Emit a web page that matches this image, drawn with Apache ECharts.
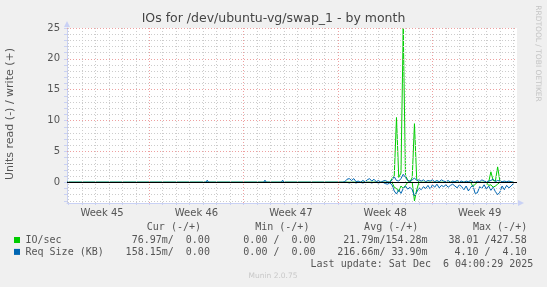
<!DOCTYPE html>
<html><head><meta charset="utf-8">
<script src="https://cdn.jsdelivr.net/npm/echarts@6/dist/echarts.min.js"></script>
<style>html,body{margin:0;padding:0;background:#f0f0f0}#c{width:547px;height:287px}</style>
</head><body><div id="c"></div>
<script>
// ---- data ----
const weekLabels = ['Week 45', 'Week 46', 'Week 47', 'Week 48', 'Week 49'];
const weekCenters = [2.5, 9.5, 16.5, 23.5, 30.5];   // days from first day line
const weekStarts = [6, 13, 20, 27];
const yTickLabels = [0, 5, 10, 15, 20, 25];
const dataStartDay = 20.5;
const stepDay = 1 / 6;  // 4-hour samples

const ioWrite = [0,0,0,0,0,0,0,0,0,0, 0,0,0,0,0,0,0,0,0,0, 0,0.6,1.0,10.5,0.8,1.5,25,1.2,0.3,0,
                 0.8,9.5,0.5,0,0,0,0,0,0,0, 0,0,0,0,0,0,0,0,0,0, 0,0,0,0,0,0,0,0,0,0,
                 0,0,0,0,0,1.7,0.3,0.2,2.5,0.2, 0,0,0,0,0,0];
const ioRead = [0,0,0,0,0,0,0,0,0,0, 0,0,0,0,0,0,0,0,0,0, 0,0,0.8,1.0,1.5,0.6,1.0,0.5,0,0,
                0,3.0,1.2,0,0,0,0,0,0,0, 0,0,0,0,0,0,0,0,0,0, 0,0,0,0,0,0,0,0.7,0.3,0,
                0,0,0,0,0.5,0.4,0.8,0.6,0.3,0, 0,0,0,0,0,0];
const sizeWrite = [0.1,0.5,0.6,0.3,0.6,0.1,0.2,0.0,0.3,0.1, 0.4,0.6,0.2,0.5,0.1,0.3,0.0,0.2,0.3,0.1,
                   0.0,0.4,0.9,0.3,0.2,0.6,1.3,0.8,0.3,0.2, 0.4,0.7,0.3,0.4,0.2,0.4,0.1,0.3,0.2,0.4,
                   0.1,0.3,0.1,0.4,0.2,0.1,0.3,0.0,0.2,0.1, 0.3,0.1,0.2,0.0,0.2,0.1,0.3,0.1,0.0,0.2,
                   0.1,0.4,0.2,0.1,0.2,0.3,0.5,0.1,0.3,0.2, 0.1,0.2,0.1,0.2,0.1,0.0];
const sizeRead = [0,0,0.1,0,0,0.1,0,0,0.1,0, 0,0,0.1,0,0,0.1,0,0,0.2,0.3,
                  0.1,0.4,1.4,1.9,1.2,1.8,1.0,0.6,1.1,0.8, 1.2,2.2,1.6,0.9,1.2,0.7,1.0,0.5,1.1,0.4,
                  0.8,0.3,0.9,0.5,0.7,0.4,0.8,0.5,0.3,0.6, 0.9,0.4,0.7,1.2,0.6,1.4,0.8,0.5,1.8,1.7,
                  0.7,1.0,0.4,1.1,0.6,1.3,0.8,1.5,2.0,1.6, 0.6,1.2,0.5,0.9,0.6,0.2];
const blipDays = [10.3, 14.58, 15.89];
const blipSize = [0.35, 0.35, 0.35];

const legendNames = ['IO/sec', 'Req Size (KB)'];
const legendColors = ['#00cc00', '#0066b3'];
const legendHeads = ['Cur (-/+)', 'Min (-/+)', 'Avg (-/+)', 'Max (-/+)'];
const legendCur = ['76.97m/  0.00', '158.15m/  0.00'];
const legendMin = ['0.00 /  0.00', '0.00 /  0.00'];
const legendAvg = ['21.79m/154.28m', '216.66m/ 33.90m'];
const legendMax = ['38.01 /427.58', '4.10 /  4.10'];
const titleText = 'IOs for /dev/ubuntu-vg/swap_1 - by month';
const yTitle = 'Units read (-) / write (+)';
const lastUpdate = 'Last update: Sat Dec  6 04:00:29 2025';
const sideText = 'RRDTOOL / TOBI OETIKER';
const footer = 'Munin 2.0.75';

// ---- build ----
function build(arr, sign, withBlips) {
  const pts = [[-0.1, 0]];
  if (withBlips) blipDays.forEach((d, k) => { pts.push([d - 0.1, 0], [d, blipSize[k]], [d + 0.1, 0]); });
  pts.push([dataStartDay - stepDay, 0]);
  arr.forEach((v, i) => pts.push([dataStartDay + i * stepDay, sign * v]));
  return pts;
}
const XMIN = -0.1, XMAX = 33.27, YMIN = -3.35, YMAX = 25;
const dayVals = []; for (let d = 0; d <= 33; d++) dayVals.push(d);
const unitVals = []; for (let u = -3; u <= 25; u++) unitVals.push(u);

const minorC = '#cccccc', majorC = '#eea0a0', axisC = '#c9d1f5';
const gridLines = [];
dayVals.forEach(d => { if (weekStarts.indexOf(d) < 0) gridLines.push({xAxis: d, lineStyle: {color: minorC, type: [1, 2], width: 1}}); });
unitVals.forEach(u => { if (u % 5 !== 0) gridLines.push({yAxis: u, lineStyle: {color: minorC, type: [1, 2], width: 1}}); });
weekStarts.forEach(d => gridLines.push({xAxis: d, lineStyle: {color: majorC, type: [1, 2], width: 1}}));
yTickLabels.forEach(u => { if (u !== 0) gridLines.push({yAxis: u, lineStyle: {color: majorC, type: [1, 2], width: 1}}); });

function lineSeries(data, color, z) {
  return {type: 'line', data: data, showSymbol: false, symbol: 'none', z: z,
    lineStyle: {color: color, width: 1}, itemStyle: {color: color}, animation: false, silent: true};
}

const mono = '10px "DejaVu Sans Mono"';
const txt = '#555555';
const graphic = [
  {type: 'text', style: {text: titleText, x: 273.5, y: 18.5, align: 'center', verticalAlign: 'middle', font: '12.5px "DejaVu Sans"', fill: '#444'}},
  {type: 'text', x: 10.5, y: 114, rotation: Math.PI / 2, style: {text: yTitle, x: 0, y: 0, align: 'center', verticalAlign: 'middle', font: '11px "DejaVu Sans"', fill: txt}},
  {type: 'text', x: 537.5, y: 53.5, rotation: -Math.PI / 2, style: {text: sideText, x: 0, y: 0, align: 'center', verticalAlign: 'middle', font: '7.5px "DejaVu Sans"', fill: '#c4c4c4'}},
  {type: 'text', style: {text: footer, x: 273, y: 276.5, align: 'center', verticalAlign: 'middle', font: '7.5px "DejaVu Sans"', fill: '#c8c8c8'}},
  {type: 'text', style: {text: lastUpdate, x: 533.3, y: 264, align: 'right', verticalAlign: 'middle', font: mono, fill: txt}}
];
const headX = [201, 309.4, 418.3, 527.2];
legendHeads.forEach((h, k) => graphic.push({type: 'text', style: {text: h, x: headX[k], y: 227.8, align: 'right', verticalAlign: 'middle', font: mono, fill: txt}}));
const colX = [209.9, 315.6, 427.6, 526.7];
const rowY = [240.4, 252.3];
legendNames.forEach((n, r) => {
  graphic.push({type: 'rect', shape: {x: 14, y: rowY[r] - 3.4, width: 6, height: 6}, style: {fill: legendColors[r]}});
  graphic.push({type: 'text', style: {text: n, x: 25.5, y: rowY[r], align: 'left', verticalAlign: 'middle', font: mono, fill: txt}});
  [legendCur[r], legendMin[r], legendAvg[r], legendMax[r]].forEach((s, k) =>
    graphic.push({type: 'text', style: {text: s, x: colX[k], y: rowY[r], align: 'right', verticalAlign: 'middle', font: mono, fill: txt}}));
});

const chart = echarts.init(document.getElementById('c'), null, {renderer: 'canvas'});
chart.setOption({
  backgroundColor: '#f0f0f0',
  animation: false,
  grid: {left: 67, right: 30, top: 28, bottom: 84, show: true, backgroundColor: '#ffffff', borderWidth: 0},
  xAxis: {
    type: 'value', min: XMIN, max: XMAX,
    axisLine: {show: true, onZero: false, lineStyle: {color: axisC, width: 1}, symbol: ['none', 'triangle'], symbolSize: [6, 6], symbolOffset: [0, 4]},
    axisTick: {show: true, customValues: dayVals, length: 2, lineStyle: {color: axisC}},
    axisLabel: {customValues: weekCenters, margin: 5, color: txt, fontFamily: 'DejaVu Sans', fontSize: 10,
      formatter: v => { const k = weekCenters.findIndex(c => Math.abs(c - v) < 1e-6); return k >= 0 ? weekLabels[k] : ''; }},
    splitLine: {show: false}
  },
  yAxis: {
    type: 'value', min: YMIN, max: YMAX,
    axisLine: {show: true, onZero: false, lineStyle: {color: axisC, width: 1}, symbol: ['none', 'triangle'], symbolSize: [6, 6], symbolOffset: [0, 4]},
    axisTick: {show: true, customValues: unitVals, length: 3, lineStyle: {color: axisC}},
    axisLabel: {customValues: yTickLabels, margin: 7, color: txt, fontFamily: 'DejaVu Sans', fontSize: 10},
    splitLine: {show: false}
  },
  graphic: graphic,
  series: [
    {type: 'line', data: [[XMIN, 0]], showSymbol: false, symbol: 'none', z: 1, lineStyle: {opacity: 0}, silent: true,
     markLine: {silent: true, symbol: ['none', 'none'], label: {show: false}, animation: false, data: gridLines}},
    lineSeries(build(ioRead, -1, false), '#00cc00', 2),
    lineSeries(build(ioWrite, 1, false), '#00cc00', 2),
    lineSeries(build(sizeRead, -1, false), '#0066b3', 3),
    lineSeries(build(sizeWrite, 1, true), '#0066b3', 3),
    {type: 'line', data: [[XMIN, 0]], showSymbol: false, symbol: 'none', z: 4, lineStyle: {opacity: 0}, silent: true,
     markLine: {silent: true, symbol: ['none', 'none'], label: {show: false}, animation: false,
       data: [{yAxis: 0, lineStyle: {color: '#000000', type: 'solid', width: 1}}]}}
  ]
});
</script></body></html>
